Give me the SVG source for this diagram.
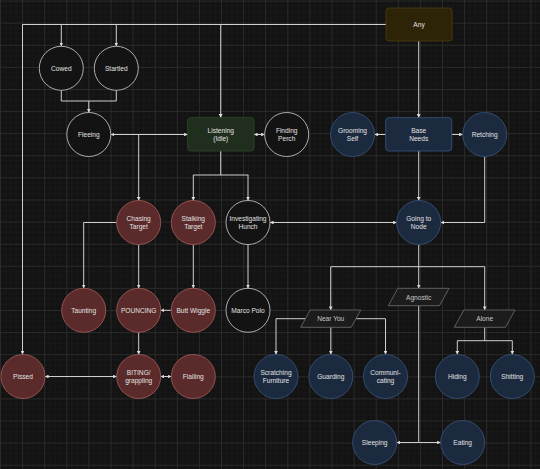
<svg xmlns="http://www.w3.org/2000/svg" width="540" height="469" viewBox="0 0 540 469">
<style>
text{font-family:"Liberation Sans",Arial,sans-serif;font-size:6.6px;fill:#e2e2e2;text-anchor:middle;dominant-baseline:central}
.red{fill:#5a2b2a;stroke:#a85e5c;stroke-width:0.8}
.blue{fill:#1c2a3f;stroke:#39577f;stroke-width:0.8}
.wht{fill:#131313;stroke:#d2d2d2;stroke-width:0.8}
.para{fill:#1c1c1c;stroke:#707070;stroke-width:0.8}
.para text,.ptxt{fill:#c8c8c8}
.c path{fill:none;stroke:#cfcfcf;stroke-width:1}
.a{marker-end:url(#ah)}
.d{marker-start:url(#ah);marker-end:url(#ah)}
</style>
<defs>
<pattern id="grid" patternUnits="userSpaceOnUse" width="22.1" height="22.1" x="0" y="0.6">
<rect width="22.1" height="22.1" fill="#131313"/>
<path d="M5.525 0V22.1M11.05 0V22.1M16.575 0V22.1M0 5.525H22.1M0 11.05H22.1M0 16.575H22.1" stroke="#1a1a1a" stroke-width="0.6"/>
<path d="M0.5 0V22.1M0 0.5H22.1" stroke="#2a2a2a" stroke-width="1"/>
</pattern>
<marker id="ah" markerUnits="userSpaceOnUse" markerWidth="3.6" markerHeight="3.8" refX="4" refY="2" orient="auto-start-reverse" viewBox="0 0 4 4" preserveAspectRatio="none">
<path d="M0,0 L4,2 L0,4 Z" fill="#dcdcdc"/>
</marker>
</defs>
<rect width="540" height="469" fill="url(#grid)"/>

<g id="connectors" class="c">
<path d="M386 24.5H22.5V354"/>
<path class="a" d="M22.5 24.5V354.5"/>
<path class="a" d="M61.3 24.5V46.3"/>
<path class="a" d="M116.3 24.5V46.3"/>
<path class="a" d="M220.7 24.5V117.7"/>
<path class="a" d="M418.7 41V117.7"/>
<path d="M61.3 90.3V101H116.3V90.3"/>
<path class="a" d="M88.8 101V112.5"/>
<path class="d" d="M110.8 134.5H187.7"/>
<path class="a" d="M138.7 134.5V200.5"/>
<path class="d" d="M254 134.5H264.7"/>
<path d="M220.7 151V175"/>
<path d="M193.3 175H248.3"/>
<path class="a" d="M193.3 175V200.5"/>
<path class="a" d="M248 175V200.5"/>
<path class="a" d="M385.7 134.5H374.5"/>
<path class="a" d="M451.7 134.5H462.7"/>
<path class="a" d="M418.7 151V200.5"/>
<path class="a" d="M484.7 156.5V222.5H440.7"/>
<path class="d" d="M270 222.5H396.7"/>
<path class="a" d="M418.7 244.5V288.3"/>
<path d="M330.7 266.7H484.7"/>
<path class="a" d="M330.7 266.7V310"/>
<path class="a" d="M484.7 266.7V310"/>
<path d="M418.7 305.7V442.5"/>
<path class="a" d="M418.7 442.5H396.7"/>
<path class="a" d="M418.7 442.5H440.7"/>
<path class="a" d="M305.3 318.7H276V354.5"/>
<path class="a" d="M330.8 327.3V354.5"/>
<path class="a" d="M356.2 318.7H385.5V354.5"/>
<path d="M484.7 327.3V340.7"/>
<path d="M457.3 340.7H512.3"/>
<path class="a" d="M457.3 340.7V354.5"/>
<path class="a" d="M512.3 340.7V354.5"/>
<path class="a" d="M116.7 222.5H83.7V288.3"/>
<path class="a" d="M138.7 244.5V288.3"/>
<path class="a" d="M193.3 244.5V288.3"/>
<path class="a" d="M171.3 310.3H160.7"/>
<path class="a" d="M248 244.5V288.3"/>
<path class="a" d="M138.7 332.3V354.5"/>
<path class="d" d="M45 376.5H116.7"/>
<path class="d" d="M160.7 376.5H171.3"/>
</g>

<g id="any"><rect x="386" y="8" width="66" height="33" rx="3" fill="#2d2306" stroke="#4f3e0f" stroke-width="0.8"/><text x="419" y="24.5">Any</text></g>
<g id="cowed"><circle class="wht" cx="61.3" cy="68.3" r="22"/><text x="61.3" y="68.3">Cowed</text></g>
<g id="startled"><circle class="wht" cx="116.3" cy="68.3" r="22"/><text x="116.3" y="68.3">Startled</text></g>
<g id="fleeing"><circle class="wht" cx="88.8" cy="134.5" r="22"/><text x="88.8" y="134.5">Fleeing</text></g>
<g id="listening"><rect x="187.7" y="117.7" width="66.3" height="33.3" rx="3" fill="#1f2e1d" stroke="#30492b" stroke-width="0.8"/><text x="220.8" y="130.5">Listening</text><text x="220.8" y="138.5">(Idle)</text></g>
<g id="finding-perch"><circle class="wht" cx="286.7" cy="134.5" r="22"/><text x="286.7" y="130.5">Finding</text><text x="286.7" y="138.5">Perch</text></g>
<g id="grooming-self"><circle class="blue" cx="352.5" cy="134.5" r="22"/><text x="352.5" y="130.5">Grooming</text><text x="352.5" y="138.5">Self</text></g>
<g id="base-needs"><rect x="385.7" y="117.7" width="66" height="33.3" rx="3" fill="#1c2a3f" stroke="#39577f" stroke-width="0.8"/><text x="418.7" y="130.5">Base</text><text x="418.7" y="138.5">Needs</text></g>
<g id="retching"><circle class="blue" cx="484.7" cy="134.5" r="22"/><text x="484.7" y="134.5">Retching</text></g>

<g id="chasing-target"><circle class="red" cx="138.7" cy="222.5" r="22"/><text x="138.7" y="218.5">Chasing</text><text x="138.7" y="226.5">Target</text></g>
<g id="stalking-target"><circle class="red" cx="193.3" cy="222.5" r="22"/><text x="193.3" y="218.5">Stalking</text><text x="193.3" y="226.5">Target</text></g>
<g id="investigating-hunch"><circle class="wht" cx="248" cy="222.5" r="22"/><text x="248" y="218.5">Investigating</text><text x="248" y="226.5">Hunch</text></g>
<g id="going-to-node"><circle class="blue" cx="418.7" cy="222.5" r="22"/><text x="418.7" y="218.5">Going to</text><text x="418.7" y="226.5">Node</text></g>

<g id="taunting"><circle class="red" cx="83.7" cy="310.3" r="22"/><text x="83.7" y="310.3">Taunting</text></g>
<g id="pouncing"><circle class="red" cx="138.7" cy="310.3" r="22"/><text x="138.7" y="310.3">POUNCING</text></g>
<g id="butt-wiggle"><circle class="red" cx="193.3" cy="310.3" r="22"/><text x="193.3" y="310.3">Butt Wiggle</text></g>
<g id="marco-polo"><circle class="wht" cx="248" cy="310.3" r="22"/><text x="248" y="310.3">Marco Polo</text></g>

<g id="agnostic"><polygon class="para" points="397.8,288.3 449,288.3 439.5,305.7 388.3,305.7"/><text class="ptxt" x="418.7" y="297">Agnostic</text></g>
<g id="near-you"><polygon class="para" points="310.2,310 360.7,310 351.2,327.3 300.7,327.3"/><text class="ptxt" x="330.7" y="318.7">Near You</text></g>
<g id="alone"><polygon class="para" points="463.8,310 515,310 505.5,327.3 454.3,327.3"/><text class="ptxt" x="484.7" y="318.7">Alone</text></g>

<g id="pissed"><circle class="red" cx="23" cy="376.5" r="22"/><text x="23" y="376.5">Pissed</text></g>
<g id="biting"><circle class="red" cx="138.7" cy="376.5" r="22"/><text x="138.7" y="372.5">BITING/</text><text x="138.7" y="380.5">grappling</text></g>
<g id="flailing"><circle class="red" cx="193.3" cy="376.5" r="22"/><text x="193.3" y="376.5">Flailing</text></g>
<g id="scratching-furniture"><circle class="blue" cx="276" cy="376.5" r="22"/><text x="276" y="372.5">Scratching</text><text x="276" y="380.5">Furniture</text></g>
<g id="guarding"><circle class="blue" cx="330.8" cy="376.5" r="22"/><text x="330.8" y="376.5">Guarding</text></g>
<g id="communicating"><circle class="blue" cx="385.5" cy="376.5" r="22"/><text x="385.5" y="372.5">Communi-</text><text x="385.5" y="380.5">cating</text></g>
<g id="hiding"><circle class="blue" cx="457.3" cy="376.5" r="22"/><text x="457.3" y="376.5">Hiding</text></g>
<g id="shitting"><circle class="blue" cx="512.3" cy="376.5" r="22"/><text x="512.3" y="376.5">Shitting</text></g>
<g id="sleeping"><circle class="blue" cx="374.7" cy="442.5" r="22"/><text x="374.7" y="442.5">Sleeping</text></g>
<g id="eating"><circle class="blue" cx="462.7" cy="442.5" r="22"/><text x="462.7" y="442.5">Eating</text></g>
</svg>
